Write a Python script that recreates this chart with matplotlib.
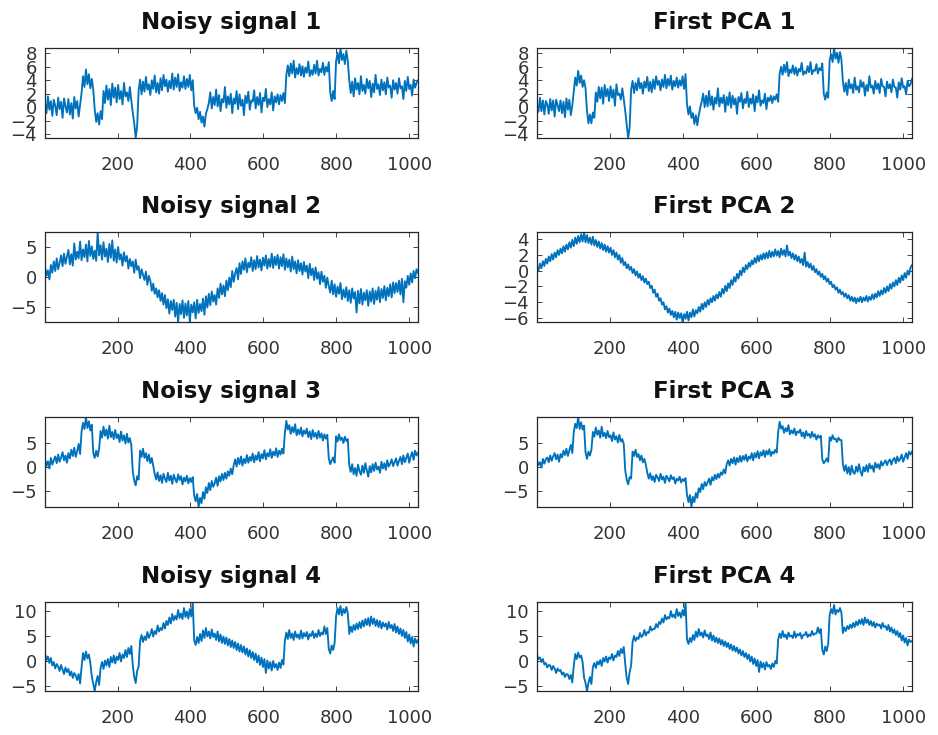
import numpy as np
import matplotlib
matplotlib.use("Agg")
import matplotlib.pyplot as plt

plt.rcParams['font.family'] = ['DejaVu Sans']

# values, evenly spread over samples 1..1024
sample_first, sample_last = 1, 1024

titles_left = ['Noisy signal 1', 'Noisy signal 2', 'Noisy signal 3', 'Noisy signal 4']
titles_right = ['First PCA 1', 'First PCA 2', 'First PCA 3', 'First PCA 4']
x_ticks = [200, 400, 600, 800, 1000]
y_ticks_left = [[-4, -2, 0, 2, 4, 6, 8], [-5, 0, 5], [-5, 0, 5], [-5, 0, 5, 10]]
y_ticks_right = [[-4, -2, 0, 2, 4, 6, 8], [-6, -4, -2, 0, 2, 4], [-5, 0, 5], [-5, 0, 5, 10]]

noisy1 = [0.5, -0.9, 1.6, -0.4, 0.9, -1.3, 1.1, 0.2, -1.2, 1.4, -0.3, 0.8, -1.6, 1.3, 0.1, -0.8,
          1.2, -1.1, 0.6, -1.7, 1.5, -0.2, 0.9, -1.4, 0.4, 2.1, 4.6, 3.0, 5.6, 3.4, 4.9, 2.8,
          4.2, 2.6, -0.4, -2.2, -0.9, -2.6, -0.6, -1.8, 2.4, 0.6, 3.2, 1.1, 2.7, 0.3, 3.5, 1.4,
          2.9, 0.7, 3.3, 1.2, 2.4, 0.4, 3.6, 1.6, 2.2, 0.9, 3.0, 1.0, -0.8, -2.4, -4.6, -2.8,
          2.4, 4.1, 1.9, 3.8, 2.3, 4.5, 2.6, 3.4, 1.8, 4.0, 2.7, 4.7, 2.2, 3.6, 2.0, 4.3,
          2.5, 4.8, 3.1, 4.1, 2.3, 3.9, 2.8, 5.0, 2.6, 4.4, 3.0, 4.9, 2.4, 3.7, 2.9, 4.6,
          2.7, 4.2, 3.0, 4.8, 2.5, 4.0, 0.2, -0.9, -0.1, -1.8, -0.7, -2.3, -1.4, -2.9, -1.0, -0.3,
          0.6, 2.2, -0.2, 1.5, 0.3, 2.6, 0.1, 1.8, -0.6, 1.2, 0.7, 3.0, -0.1, 1.6, 0.4, 2.0,
          -0.9, 1.3, 0.5, 2.4, -0.3, 1.9, 0.2, 1.1, -1.2, 1.7, 0.6, 2.3, -0.4, 1.0, 0.8, 2.5,
          -0.2, 1.5, 0.3, 2.1, -0.8, 1.4, 0.9, 2.7, 0.0, 1.2, 0.4, 2.2, -0.5, 1.6, 0.7, 1.9,
          0.4, 1.8, 0.9, 2.1, 0.6, 4.8, 6.2, 4.6, 6.5, 5.0, 6.9, 4.4, 5.8, 4.9, 6.4, 4.7,
          6.1, 4.5, 5.9, 5.1, 6.8, 4.6, 5.5, 4.8, 6.3, 5.0, 6.9, 4.7, 5.7, 5.2, 6.6, 4.8,
          6.0, 5.3, 6.7, 2.2, 0.9, 2.4, 1.2, 6.8, 8.1, 6.5, 8.8, 7.0, 7.9, 6.4, 8.4, 6.9,
          4.0, 2.1, 3.8, 1.6, 4.3, 2.6, 3.6, 1.9, 4.6, 2.4, 3.3, 2.0, 4.2, 2.8, 3.9, 1.5,
          3.5, 2.2, 4.8, 2.7, 3.4, 1.8, 4.1, 2.5, 3.7, 1.9, 4.4, 2.9, 3.2, 1.4, 4.0, 2.6,
          3.6, 2.0, 4.3, 2.8, 3.1, 1.2, 3.9, 2.4, 4.5, 2.7, 3.3, 1.7, 4.1, 2.9, 3.6, 4.0]

pca1 = [0.3, -0.7, 1.4, -0.6, 1.0, -1.1, 0.9, 0.4, -1.0, 1.2, -0.5, 1.0, -1.4, 1.1, 0.3, -0.6,
        1.0, -0.9, 0.8, -1.5, 1.3, -0.4, 1.1, -1.2, 0.2, 2.3, 4.4, 3.2, 5.4, 3.6, 4.7, 3.0,
        4.0, 2.8, -0.6, -2.4, -1.1, -2.4, -0.8, -1.6, 2.2, 0.8, 3.0, 1.3, 2.9, 0.5, 3.3, 1.6,
        2.7, 0.9, 3.1, 1.4, 2.6, 0.2, 3.4, 1.8, 2.0, 1.1, 2.8, 1.2, -0.6, -2.6, -4.6, -3.0,
        2.6, 3.9, 2.1, 3.6, 2.5, 4.3, 2.8, 3.6, 2.0, 3.8, 2.9, 4.5, 2.4, 3.8, 2.2, 4.1,
        2.7, 4.6, 3.3, 3.9, 2.5, 4.1, 3.0, 4.8, 2.8, 4.2, 3.2, 4.7, 2.6, 3.9, 3.1, 4.4,
        2.9, 4.0, 3.2, 4.6, 2.7, 4.9, 0.4, -1.1, 0.1, -1.6, -0.9, -2.5, -1.2, -2.7, -1.2, -0.1,
        0.8, 2.0, 0.0, 1.7, 0.1, 2.4, 0.3, 1.6, -0.4, 1.4, 0.5, 2.8, 0.1, 1.4, 0.6, 1.8,
        -0.7, 1.5, 0.3, 2.2, -0.1, 1.7, 0.4, 1.3, -1.0, 1.5, 0.8, 2.1, -0.2, 1.2, 0.6, 2.3,
        0.0, 1.3, 0.5, 1.9, -0.6, 1.6, 0.7, 2.5, 0.2, 1.0, 0.6, 2.0, -0.3, 1.4, 0.9, 1.7,
        0.6, 1.6, 1.1, 1.9, 0.8, 5.0, 6.0, 4.8, 6.3, 5.2, 6.7, 4.6, 5.6, 5.1, 6.2, 4.9,
        5.9, 4.7, 5.7, 5.3, 6.6, 4.8, 5.3, 5.0, 6.1, 5.2, 6.7, 4.9, 5.5, 5.4, 6.4, 5.0,
        5.8, 5.5, 6.5, 2.0, 1.1, 2.2, 1.4, 7.0, 7.9, 6.7, 8.8, 7.2, 8.1, 6.6, 8.2, 7.1,
        3.8, 2.3, 3.6, 1.8, 4.1, 2.8, 3.4, 2.1, 4.4, 2.6, 3.1, 2.2, 4.0, 3.0, 3.7, 1.7,
        3.3, 2.4, 4.6, 2.9, 3.2, 2.0, 3.9, 2.7, 3.5, 2.1, 4.2, 3.1, 3.0, 1.6, 3.8, 2.8,
        3.4, 2.2, 4.1, 3.0, 2.9, 1.4, 3.7, 2.6, 4.3, 2.9, 3.1, 1.9, 3.9, 3.1, 3.4, 4.2]

noisy2 = [1.8, 0.2, 1.1, -0.4, 2.0, 0.7, 2.6, 1.0, 3.1, 1.3, 2.4, 3.6, 1.8, 3.9, 2.2, 3.4,
          4.5, 2.1, 3.8, 1.9, 5.6, 2.9, 4.2, 3.1, 5.9, 2.8, 4.6, 3.3, 5.4, 2.6, 6.0, 3.5,
          5.1, 3.0, 4.4, 2.7, 7.5, 3.6, 5.3, 2.9, 5.8, 3.4, 4.7, 2.5, 5.5, 3.2, 6.1, 2.7,
          4.6, 2.4, 5.0, 2.9, 3.8, 1.9, 4.1, 2.6, 3.5, 1.4, 3.0, 1.8, 2.6, 0.7, 2.9, 1.2,
          1.8, -0.2, 1.3, 0.4, -0.5, 0.9, -1.3, 0.2, -0.6, -2.3, -1.1, -2.8, -1.9, -3.4, -2.2, -4.0,
          -2.7, -4.6, -3.0, -5.2, -3.7, -6.1, -4.0, -5.5, -3.8, -6.6, -4.3, -7.5, -4.5, -6.2, -3.9, -6.8,
          -4.4, -6.4, -4.0, -7.4, -4.6, -5.9, -4.2, -6.9, -3.8, -6.0, -4.5, -5.7, -3.6, -6.3, -3.2, -5.1,
          -2.8, -4.7, -2.4, -4.1, -3.0, -4.6, -1.9, -3.5, -1.1, -2.9, -1.4, -3.2, -0.6, -2.2, -0.1, -1.7,
          1.0, -0.8, 0.6, 1.5, -0.4, 2.3, 0.5, 2.6, 1.2, 3.1, 0.8, 2.4, 1.6, 3.3, 1.0, 2.8,
          1.3, 3.5, 1.6, 2.9, 1.1, 3.2, 1.9, 3.6, 1.4, 3.0, 1.7, 3.9, 1.5, 3.4, 2.0, 3.7,
          1.4, 3.3, 1.8, 3.8, 1.2, 3.1, 1.6, 2.9, 0.9, 3.4, 1.3, 2.6, 0.6, 2.8, 1.0, 2.3,
          0.4, 2.5, 0.9, 1.9, -0.2, 2.2, 0.3, 1.4, -0.5, 1.6, -0.3, 0.8, -1.2, 0.9, -0.8, 0.2,
          -1.8, -0.1, -1.5, -2.6, -0.6, -2.9, -1.2, -3.3, -1.6, -2.8, -1.0, -3.7, -2.1, -3.4, -1.7, -4.0,
          -2.2, -4.3, -1.9, -3.6, -2.5, -5.9, -2.3, -4.4, -2.0, -4.6, -2.6, -3.9, -2.2, -4.8, -2.4, -4.1,
          -1.9, -4.5, -2.3, -3.8, -1.7, -4.2, -2.0, -3.5, -1.5, -3.9, -1.8, -3.2, -1.2, -3.4, -0.9, -2.7,
          -1.0, -2.5, -0.6, -2.9, -0.3, -4.2, -0.7, -1.8, 0.2, -1.3, 0.6, -0.9, 1.0, -0.2, 1.3, 0.7]

pca2 = [0.6, 0.0, 0.9, 0.3, 1.2, 0.6, 1.5, 0.9, 1.8, 1.2, 2.1, 1.4, 2.3, 1.7, 2.6, 2.0,
        2.8, 2.2, 3.1, 2.4, 3.3, 2.7, 3.6, 2.9, 3.9, 3.1, 4.2, 3.4, 4.4, 3.6, 4.6, 3.7,
        4.9, 3.6, 4.5, 3.5, 4.2, 3.3, 4.3, 3.2, 3.9, 3.0, 3.7, 2.8, 3.5, 2.6, 3.3, 2.4,
        3.1, 2.3, 2.9, 2.0, 2.6, 1.7, 2.3, 1.4, 2.0, 1.0, 1.6, 0.7, 1.1, 0.3, 0.8, 0.1,
        0.5, -0.3, 0.2, -0.6, -0.1, -0.9, -0.4, -1.2, -0.7, -1.5, -1.0, -1.7, -1.4, -2.2, -1.9, -2.8,
        -2.4, -3.3, -2.9, -3.8, -3.5, -4.3, -4.0, -4.9, -4.5, -5.3, -4.8, -5.6, -5.1, -5.9, -5.2, -6.2,
        -5.3, -6.0, -5.4, -6.5, -5.5, -6.1, -5.2, -6.3, -5.3, -5.9, -4.9, -5.8, -5.0, -5.4, -4.6, -5.2,
        -4.2, -4.9, -4.0, -4.6, -3.7, -4.3, -3.5, -4.0, -3.2, -3.8, -3.0, -3.5, -2.7, -3.3, -2.3, -2.9,
        -1.9, -2.6, -1.6, -2.2, -1.2, -1.8, -0.8, -1.4, -0.4, -1.0, 0.0, -0.6, 0.4, -0.2, 0.7, 0.2,
        1.0, 0.5, 1.3, 0.8, 1.6, 1.0, 1.9, 1.2, 2.0, 1.4, 2.2, 1.5, 2.3, 1.6, 2.5, 1.7,
        2.4, 1.8, 2.7, 1.9, 2.5, 1.7, 2.8, 2.0, 2.6, 1.8, 3.2, 1.9, 2.4, 1.6, 2.2, 1.4,
        2.0, 1.2, 1.8, 1.0, 1.5, 0.7, 2.3, 0.5, 1.1, 0.4, 0.9, 0.1, 0.6, -0.2, 0.2, -0.5,
        -0.1, -0.8, -0.4, -1.1, -0.7, -1.4, -1.0, -1.7, -1.4, -2.1, -1.8, -2.4, -2.1, -2.8, -2.4, -3.0,
        -2.7, -3.3, -2.9, -3.5, -3.1, -3.8, -3.3, -3.9, -3.4, -4.1, -3.5, -3.9, -3.3, -4.0, -3.4, -3.8,
        -3.2, -3.9, -3.3, -3.7, -3.0, -3.6, -2.9, -3.4, -2.6, -3.2, -2.5, -3.0, -2.2, -2.8, -2.0, -2.6,
        -1.7, -2.3, -1.5, -2.0, -1.2, -1.8, -0.9, -1.5, -0.6, -1.2, -0.3, -0.9, 0.0, -0.5, 0.4, 0.7]

noisy3 = [1.6, 0.2, 1.2, -0.3, 1.9, 0.5, 1.4, 2.2, 0.8, 2.6, 1.1, 2.0, 3.1, 1.4, 2.4, 0.9,
          2.9, 1.8, 3.6, 2.3, 4.0, 2.1, 3.3, 4.8, 2.7, 7.4, 9.2, 7.9, 10.4, 8.1, 9.5, 7.6,
          8.8, 2.9, 1.9, 3.4, 2.2, 3.8, 7.5, 6.1, 8.4, 6.5, 7.8, 5.9, 8.6, 6.2, 7.3, 5.8,
          7.7, 6.0, 6.8, 5.2, 7.4, 5.5, 6.6, 4.9, 6.9, 5.1, 6.0, 4.6, -0.9, -2.8, -3.8, -1.9,
          -2.6, 3.4, 2.1, 3.8, 1.9, 2.9, 1.2, 2.6, 0.8, 1.9, 0.3, -1.4, -2.6, -1.1, -2.9, -1.7,
          -3.3, -1.4, -2.4, -3.1, -1.2, -2.8, -1.8, -3.5, -1.6, -2.5, -3.2, -1.5, -2.7, -1.9, -3.6, -2.2,
          -3.0, -1.8, -3.4, -2.3, -3.1, -2.1, -6.0, -7.1, -5.6, -8.3, -6.4, -7.5, -5.2, -6.6, -4.2, -5.4,
          -3.3, -4.8, -2.9, -4.1, -3.4, -2.2, -3.9, -1.9, -3.0, -1.4, -2.7, -1.2, -2.4, -0.9, -1.8, -0.3,
          -1.5, 0.4, 1.6, 0.1, 1.9, 0.6, 2.2, 0.3, 1.7, 0.8, 2.5, 0.9, 2.1, 1.3, 2.8, 1.0,
          2.4, 1.5, 3.1, 1.2, 2.7, 1.8, 3.5, 1.6, 2.9, 2.2, 3.7, 1.9, 3.2, 2.4, 3.9, 2.1,
          3.4, 2.6, 3.8, 2.8, 7.1, 9.6, 7.8, 8.7, 6.9, 8.3, 7.2, 8.9, 6.6, 7.8, 6.8, 8.2,
          6.4, 7.6, 6.9, 8.0, 6.2, 7.4, 5.8, 7.7, 6.3, 7.1, 5.9, 7.5, 6.1, 7.0, 5.5, 6.8,
          5.9, 6.7, 1.8, 0.6, 1.4, 2.0, 0.9, 6.4, 5.3, 6.8, 5.6, 6.1, 5.0, 6.3, 5.4, 5.8,
          0.4, -1.0, 0.6, -1.5, -0.2, -1.8, 0.5, -0.9, -1.6, 0.3, -1.2, 0.8, -0.7, -2.0, 0.2, -1.1,
          0.6, -0.8, 0.9, -0.5, 0.1, -1.2, 1.1, -0.3, 0.8, -0.6, 1.4, 0.1, 0.7, 1.6, 0.2, 1.0,
          1.8, 0.3, 1.3, 2.1, 0.6, 2.4, 1.0, 1.9, 2.8, 0.9, 2.2, 3.1, 1.5, 3.4, 2.4, 3.0]

pca3 = [1.4, 0.4, 1.0, -0.1, 1.7, 0.7, 1.6, 2.0, 1.0, 2.4, 1.3, 2.2, 2.9, 1.6, 2.6, 1.1,
        2.7, 2.0, 3.4, 2.5, 3.8, 2.3, 3.5, 4.6, 2.9, 7.2, 9.0, 8.1, 10.4, 7.9, 9.3, 7.8,
        8.6, 3.1, 1.7, 3.2, 2.4, 3.6, 7.3, 6.3, 8.2, 6.7, 7.6, 6.1, 8.4, 6.4, 7.1, 6.0,
        7.5, 6.2, 6.6, 5.4, 7.2, 5.7, 6.4, 5.1, 6.7, 5.3, 5.8, 4.8, -0.7, -2.6, -3.6, -2.1,
        -2.4, 3.2, 2.3, 3.6, 2.1, 2.7, 1.4, 2.4, 1.0, 1.7, 0.5, -1.2, -2.4, -1.3, -2.7, -1.9,
        -3.1, -1.6, -2.2, -2.9, -1.4, -2.6, -2.0, -3.3, -1.8, -2.3, -3.0, -1.7, -2.5, -2.1, -3.4, -2.4,
        -2.8, -2.0, -3.2, -2.5, -2.9, -2.3, -5.8, -7.3, -5.8, -8.3, -6.2, -7.3, -5.4, -6.4, -4.4, -5.2,
        -3.5, -4.6, -3.1, -3.9, -3.2, -2.4, -3.7, -2.1, -2.8, -1.6, -2.5, -1.4, -2.2, -1.1, -1.6, -0.5,
        -1.3, 0.6, 1.4, 0.3, 1.7, 0.8, 2.0, 0.5, 1.9, 1.0, 2.3, 1.1, 2.3, 1.5, 2.6, 1.2,
        2.2, 1.7, 2.9, 1.4, 2.9, 2.0, 3.3, 1.8, 3.1, 2.4, 3.5, 2.1, 3.4, 2.6, 3.7, 2.3,
        3.2, 2.8, 3.6, 3.0, 7.3, 9.4, 8.0, 8.5, 7.1, 8.1, 7.4, 8.7, 6.8, 7.6, 7.0, 8.0,
        6.6, 7.4, 7.1, 7.8, 6.4, 7.2, 6.0, 7.5, 6.5, 6.9, 6.1, 7.3, 6.3, 6.8, 5.7, 6.6,
        6.1, 6.5, 1.6, 0.8, 1.2, 1.8, 1.1, 6.2, 5.5, 6.6, 5.8, 5.9, 5.2, 6.1, 5.6, 5.6,
        0.6, -0.8, 0.4, -1.3, 0.0, -1.6, 0.3, -1.1, -1.4, 0.1, -1.0, 0.6, -0.9, -1.8, 0.0, -0.9,
        0.4, -1.0, 0.7, -0.3, 0.3, -1.0, 0.9, -0.1, 0.6, -0.4, 1.2, 0.3, 0.9, 1.4, 0.4, 1.2,
        1.6, 0.5, 1.5, 1.9, 0.8, 2.2, 1.2, 1.7, 2.6, 1.1, 2.0, 2.9, 1.7, 3.2, 2.6, 3.2]

noisy4 = [1.5, 0.2, 0.9, -0.4, 0.6, -0.9, -0.2, -1.5, -0.6, -1.1, -2.0, -0.8, -1.7, -2.6, -1.3, -2.2,
          -1.6, -2.9, -2.1, -3.4, -2.4, -2.9, -3.8, -2.6, -4.5, -1.2, 1.6, 0.2, 1.9, 0.5, 1.3, -0.4,
          -3.1, -4.6, -6.0, -4.2, -3.0, -4.8, -1.4, -0.2, -1.6, 0.1, -0.9, 0.4, -1.2, 0.8, -0.3, 1.1,
          -0.5, 0.9, 0.2, 1.6, -0.1, 1.3, 0.6, 2.2, 0.8, 2.6, 1.4, 3.0, -0.8, -3.2, -4.4, -2.0,
          -1.1, 4.0, 5.2, 3.8, 4.9, 4.2, 5.8, 4.6, 5.3, 6.4, 4.9, 6.0, 5.4, 7.1, 5.9, 6.6,
          6.2, 7.6, 6.5, 8.0, 7.2, 8.7, 7.5, 9.4, 8.1, 9.0, 8.3, 10.2, 8.6, 9.5, 8.4, 10.6,
          8.8, 9.9, 8.5, 10.4, 8.9, 11.8, 4.1, 3.2, 4.8, 3.6, 5.4, 4.0, 6.1, 4.6, 6.6, 4.9,
          5.9, 4.5, 6.3, 4.8, 5.5, 4.2, 5.9, 3.9, 5.3, 3.6, 4.9, 3.4, 4.7, 3.1, 4.4, 2.8,
          4.1, 2.6, 3.8, 2.2, 3.5, 1.9, 3.2, 1.7, 2.9, 1.3, 2.5, 0.9, 2.2, 0.6, 1.8, 0.2,
          1.5, -0.3, 1.1, -0.8, 0.7, -1.2, 0.4, -2.4, 0.1, -1.5, -0.2, -1.9, 0.0, -1.3, -0.6, -1.8,
          -0.3, -1.4, 0.2, -0.7, 4.1, 5.7, 4.4, 6.2, 4.6, 5.5, 4.2, 5.9, 4.7, 5.3, 4.4, 6.1,
          4.5, 5.6, 4.9, 5.8, 4.3, 5.4, 5.0, 6.0, 4.6, 5.5, 4.8, 6.2, 5.0, 5.7, 5.3, 6.9,
          5.4, 6.6, 2.4, 1.5, 3.1, 2.2, 3.6, 9.0, 10.6, 9.3, 11.0, 9.1, 10.4, 9.6, 10.8, 9.5,
          5.4, 6.9, 5.8, 7.2, 6.2, 7.5, 6.4, 7.8, 6.6, 8.1, 6.9, 8.4, 7.2, 8.6, 7.0, 8.9,
          7.4, 8.5, 7.0, 8.2, 6.8, 8.0, 6.5, 7.7, 6.9, 7.5, 6.3, 7.8, 6.6, 7.2, 6.0, 7.4,
          5.7, 6.9, 5.4, 6.5, 5.0, 6.2, 4.6, 5.8, 3.9, 5.3, 3.5, 4.8, 2.9, 4.5, 3.6, 4.2]

pca4 = [1.3, 0.4, 0.7, -0.2, 0.4, -0.7, -0.4, -1.3, -0.8, -0.9, -1.8, -1.0, -1.5, -2.4, -1.5, -2.0,
        -1.8, -2.7, -2.3, -3.2, -2.6, -2.7, -3.6, -2.8, -4.3, -1.0, 1.4, 0.4, 1.7, 0.7, 1.1, -0.2,
        -3.3, -4.4, -6.0, -4.4, -3.2, -4.6, -1.2, -0.4, -1.4, -0.1, -0.7, 0.2, -1.0, 0.6, -0.1, 0.9,
        -0.3, 0.7, 0.4, 1.4, 0.1, 1.1, 0.8, 2.0, 1.0, 2.4, 1.6, 2.8, -0.6, -3.4, -4.6, -2.2,
        -0.9, 3.8, 5.0, 4.0, 4.7, 4.4, 5.6, 4.8, 5.1, 6.2, 5.1, 5.8, 5.6, 6.9, 6.1, 6.4,
        6.4, 7.4, 6.7, 7.8, 7.4, 8.5, 7.7, 9.2, 8.3, 8.8, 8.5, 10.0, 8.8, 9.3, 8.6, 10.4,
        9.0, 9.7, 8.7, 10.2, 9.1, 11.8, 4.3, 3.4, 4.6, 3.8, 5.2, 4.2, 5.9, 4.8, 6.4, 5.1,
        5.7, 4.7, 6.1, 5.0, 5.3, 4.4, 5.7, 4.1, 5.1, 3.8, 4.7, 3.6, 4.5, 3.3, 4.2, 3.0,
        3.9, 2.8, 3.6, 2.4, 3.3, 2.1, 3.0, 1.9, 2.7, 1.5, 2.3, 1.1, 2.0, 0.8, 1.6, 0.4,
        1.3, -0.1, 0.9, -0.6, 0.5, -1.0, 0.2, -2.2, -0.1, -1.3, -0.4, -1.7, -0.2, -1.1, -0.8, -1.6,
        -0.5, -1.2, 0.0, -0.5, 4.3, 5.5, 4.6, 6.0, 4.8, 5.3, 4.4, 5.7, 4.9, 5.1, 4.6, 5.9,
        4.7, 5.4, 5.1, 5.6, 4.5, 5.2, 5.2, 5.8, 4.8, 5.3, 5.0, 6.0, 5.2, 5.5, 5.5, 6.7,
        5.6, 6.4, 2.2, 1.3, 2.9, 2.0, 3.4, 9.2, 10.4, 9.5, 11.2, 9.3, 10.2, 9.8, 10.6, 9.7,
        5.6, 6.7, 6.0, 7.0, 6.4, 7.3, 6.6, 7.6, 6.8, 7.9, 7.1, 8.2, 7.4, 8.4, 7.2, 8.7,
        7.6, 8.3, 7.2, 8.0, 7.0, 7.8, 6.7, 7.5, 7.1, 7.3, 6.5, 7.6, 6.8, 7.0, 6.2, 7.2,
        5.9, 6.7, 5.6, 6.3, 5.2, 6.0, 4.8, 5.6, 4.1, 5.1, 3.7, 4.6, 3.1, 4.3, 3.8, 4.0]

left_series = [noisy1, noisy2, noisy3, noisy4]
right_series = [pca1, pca2, pca3, pca4]

W, H = 938, 735
fig = plt.figure(figsize=(W / 100, H / 100), dpi=100)

col_px = [(45, 418), (537, 912)]
row_px = [(48, 138), (232, 322), (417, 507), (602, 691)]

line_color = '#0072BD'
axis_color = '#262626'

for c, (series_list, titles, yticks) in enumerate([(left_series, titles_left, y_ticks_left),
                                                   (right_series, titles_right, y_ticks_right)]):
    x0, x1 = col_px[c]
    for r in range(4):
        y0, y1 = row_px[r]
        ax = fig.add_axes([x0 / W, 1 - y1 / H, (x1 - x0) / W, (y1 - y0) / H])
        y = np.array(series_list[r])
        x = np.linspace(sample_first, sample_last, len(y))
        ax.plot(x, y, color=line_color, lw=1.35)
        ax.set_xlim(sample_first, sample_last)
        ax.set_ylim(y.min(), y.max())
        ax.set_xticks(x_ticks)
        ax.set_yticks(yticks[r])
        ax.tick_params(direction='in', top=True, right=True, length=3.5, width=0.6,
                       color=axis_color, labelcolor='#333333', labelsize=13)
        ax.tick_params(axis='x', pad=13)
        ax.tick_params(axis='y', pad=6)
        for sp in ax.spines.values():
            sp.set_color(axis_color)
            sp.set_linewidth(0.9)
        ax.set_title(titles[r], fontsize=16.5, fontweight='bold', pad=14, color='#111111')

fig.savefig('out.png', dpi=100)
